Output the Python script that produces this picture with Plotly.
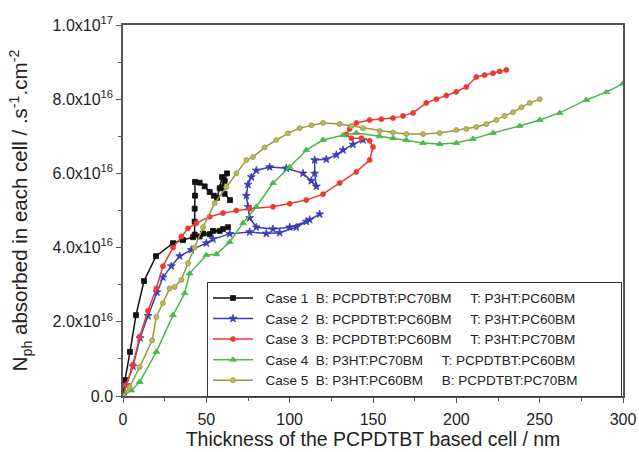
import plotly.graph_objects as go

# Case 1 (black squares)
x1 = [0, 1.2, 4.2, 7.8, 12.6, 19.8, 30, 36, 42, 48, 54, 60, 63, 58, 52, 46, 43, 43, 43, 43.2, 43.2,
      46, 49, 52, 54.5, 56.4, 58, 59.4, 62.4, 61, 59.4, 61, 64.2]
y1 = [0, 0.43, 1.19, 2.18, 3.1, 3.77, 4.12, 4.2, 4.28, 4.38, 4.45, 4.5, 4.55, 4.45, 4.36, 4.3, 4.35, 4.7, 5.05, 5.4, 5.77,
      5.75, 5.65, 5.5, 5.4, 5.34, 5.6, 5.9, 6.0, 5.8, 5.63, 5.45, 5.28]

# Case 2 (blue stars)
x2 = [0, 2, 6, 10.2, 15, 20.4, 24, 29, 34, 41, 50, 54, 64, 76, 86, 94, 104, 112, 118,
      110, 100, 90, 80, 76, 75, 74, 75, 77, 80, 88, 98, 108, 113, 116, 115, 115, 122, 128, 132, 138, 144]
y2 = [0, 0.3, 0.8, 1.56, 2.16, 2.8, 3.2, 3.5, 3.77, 3.94, 4.12, 4.23, 4.37, 4.42, 4.38, 4.4, 4.55, 4.75, 4.9,
      4.7, 4.55, 4.5, 4.55, 4.8, 5.1, 5.4, 5.7, 5.9, 6.08, 6.17, 6.14, 6.0, 5.8, 5.65, 6.0, 6.36, 6.38, 6.5, 6.63, 6.78, 6.9]

# Case 3 (red circles)
x3 = [0, 2, 6, 10, 15, 20, 24, 30, 35, 39, 44, 52, 60, 68, 76, 90, 100, 110, 120, 130, 140, 148, 150,
      148, 143, 137, 134, 136, 140, 148, 155, 162, 168, 174, 182, 188, 194, 200, 206, 212, 217, 222, 226, 230]
y3 = [0, 0.3, 0.85, 1.6, 2.3, 2.9, 3.5, 4.0, 4.3, 4.52, 4.66, 4.83, 4.93, 5.0, 5.05, 5.1, 5.18, 5.28, 5.44, 5.74, 6.04, 6.36, 6.71,
      6.88, 6.95, 6.95, 7.05, 7.2, 7.36, 7.44, 7.46, 7.49, 7.55, 7.63, 7.9, 8.0, 8.1, 8.2, 8.33, 8.6, 8.65, 8.7, 8.75, 8.79]

# Case 4 (green triangles)
x4 = [0, 5, 10, 20, 30, 37, 40, 50, 56, 64, 72, 80, 90, 100, 110, 120, 132, 140, 154, 162, 170, 180, 190, 200,
      210, 222, 238, 250, 262, 278, 290, 300]
y4 = [0, 0.15, 0.38, 1.19, 2.18, 2.77, 3.3, 3.8, 3.82, 4.15, 4.66, 5.1, 5.74, 6.17, 6.63, 6.9, 7.03, 7.09, 7.0, 6.95, 6.9, 6.82, 6.79, 6.82,
      6.93, 7.09, 7.28, 7.44, 7.63, 7.98, 8.19, 8.42]

# Case 5 (olive circles)
x5 = [0, 4, 10, 17.5, 20, 24, 28, 31, 35, 39, 43, 48, 55, 62, 68, 74, 78, 85, 92, 99, 106, 113, 120, 130, 137, 144,
      154, 162, 170, 180, 190, 200, 206, 212, 218, 224, 229, 234, 239, 244, 250]
y5 = [0, 0.24, 0.78, 1.5, 2.13, 2.5, 2.9, 2.94, 3.13, 3.58, 4.0, 4.55, 5.2, 5.63, 6.0, 6.36, 6.44, 6.7, 6.9, 7.08, 7.22, 7.3, 7.36, 7.33, 7.28, 7.22,
      7.14, 7.1, 7.06, 7.06, 7.09, 7.17, 7.2, 7.25, 7.33, 7.44, 7.55, 7.65, 7.78, 7.9, 8.0]

S = "\u00a0"
names = [
    S * 2 + "Case 1" + S * 2 + "B: PCPDTBT:PC70BM" + S * 5 + "T: P3HT:PC60BM" + S * 10,
    S * 2 + "Case 2" + S * 2 + "B: PCPDTBT:PC60BM" + S * 5 + "T: P3HT:PC60BM" + S * 10,
    S * 2 + "Case 3" + S * 2 + "B: PCPDTBT:PC60BM" + S * 5 + "T: P3HT:PC70BM" + S * 10,
    S * 2 + "Case 4" + S * 2 + "B: P3HT:PC70BM" + S * 5 + "T: PCPDTBT:PC60BM" + S * 10,
    S * 2 + "Case 5" + S * 2 + "B: P3HT:PC60BM" + S * 5 + "B: PCPDTBT:PC70BM" + S * 10,
]

ytickvals = [0, 2, 4, 6, 8, 10]
yticktext = ["0.0", "2.0x10<sup>16</sup>", "4.0x10<sup>16</sup>", "6.0x10<sup>16</sup>",
             "8.0x10<sup>16</sup>", "1.0x10<sup>17</sup>"]
xtickvals = [0, 50, 100, 150, 200, 250, 300]

series = [
    (x1, y1, "#111111", "square", 5, "#111111"),
    (x2, y2, "#3b3fb0", "star", 6, "#3b3fb0"),
    (x3, y3, "#ec3a32", "circle", 5, "#ec3a32"),
    (x4, y4, "#4cb84a", "triangle-up", 6, "#4cb84a"),
    (x5, y5, "#9a9a38", "circle", 5, "#b8b860"),
]

fig = go.Figure()
for (xs, ys, col, sym, sz, fill), nm in zip(series, names):
    fig.add_trace(go.Scatter(
        x=xs, y=ys, mode="lines+markers", name=nm,
        line=dict(color=col, width=1.5),
        marker=dict(symbol=sym, size=sz, color=fill, line=dict(color=col, width=0.8)),
    ))

axis_common = dict(showline=True, linecolor="#555555", linewidth=1.5, mirror=True,
                   ticks="outside", ticklen=5, tickwidth=1.2, tickcolor="#555555",
                   showgrid=False, zeroline=False, automargin=False,
                   tickfont=dict(family="Liberation Sans, Arial", size=16, color="#222222"))

fig.update_layout(
    width=639, height=452,
    margin=dict(l=123, r=16, t=25, b=56),
    paper_bgcolor="white", plot_bgcolor="white",
    font=dict(family="Liberation Sans, Arial", color="#222222"),
    xaxis=dict(range=[0, 300], tickvals=xtickvals, ticklabelstandoff=3,
               minor=dict(tickvals=[25, 75, 125, 175, 225, 275], ticks="outside", ticklen=3, tickcolor="#555555"),
               title=dict(text="Thickness of the PCPDTBT based cell / nm", font=dict(size=19.5), standoff=5),
               **axis_common),
    yaxis=dict(range=[0, 10], tickvals=ytickvals, ticktext=yticktext,
               minor=dict(tickvals=[1, 3, 5, 7, 9], ticks="outside", ticklen=3, tickcolor="#555555"),
               title=dict(text="N<sub>ph</sub> absorbed in each cell / .s<sup>-1</sup>.cm<sup>-2</sup>",
                          font=dict(size=20.5), standoff=19),
               **axis_common),
    legend=dict(x=0.168, y=0.308, xanchor="left", yanchor="top",
                bgcolor="white", bordercolor="#333333", borderwidth=1,
                font=dict(family="Liberation Sans, Arial", size=13.5, color="#222222"),
                tracegroupgap=0, itemwidth=40),
    showlegend=True,
)

fig.write_html("out.html")
